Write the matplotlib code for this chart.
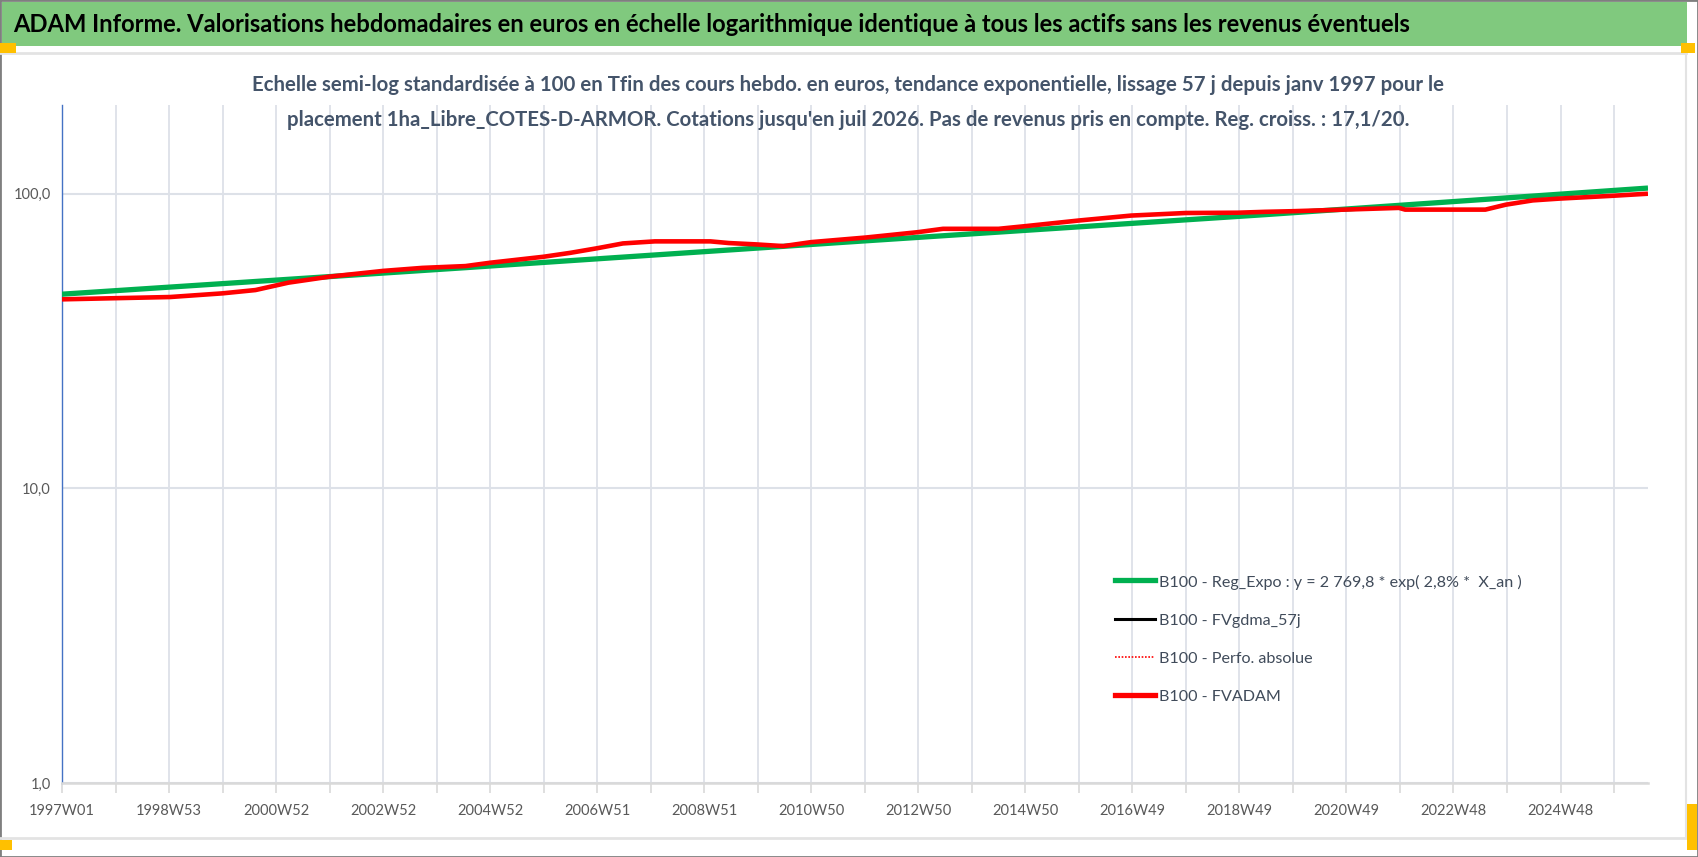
import matplotlib
matplotlib.use("Agg")
import matplotlib.pyplot as plt
from matplotlib import font_manager
from matplotlib.patches import Rectangle
from matplotlib.lines import Line2D
import matplotlib.ticker as mticker

# --- donnees (index = semaines depuis 1997W01) ---
WEEK_LABELS = ["1997W01", "1998W53", "2000W52", "2002W52", "2004W52", "2006W51",
               "2008W51", "2010W50", "2012W50", "2014W50", "2016W49", "2018W49",
               "2020W49", "2022W48", "2024W48"]
LAST_WEEK = 1541

# B100 - Reg_Expo (vert)
reg_weeks = [0, 392, 781, 1169, 1541]
reg_vals = [45.6, 56.1, 69.2, 84.9, 104.5]

# B100 - FVADAM (rouge)
adam_weeks = [0, 105, 156, 188, 220, 260, 312, 350, 392, 416, 468, 494, 520, 545,
              576, 630, 648, 674, 701, 728, 781, 831, 856, 910, 936, 988, 1039,
              1092, 1143, 1169, 1195, 1246, 1299, 1305, 1383, 1403, 1429, 1454,
              1507, 1541]
adam_vals = [43.8, 44.6, 45.9, 47.1, 49.9, 52.3, 54.7, 56.0, 56.8, 58.3, 61.1, 63.0,
             65.3, 67.8, 68.9, 68.9, 68.0, 67.3, 66.4, 68.5, 71.0, 74.0, 76.0, 76.0,
             77.6, 81.1, 84.3, 86.0, 86.2, 86.8, 87.2, 88.3, 89.5, 88.3, 88.3, 91.8,
             94.9, 96.2, 98.4, 100.0]

LEGEND_LABELS = ["B100 - Reg_Expo : y = 2 769,8 * exp( 2,8% *  X_an )",
                 "B100 - FVgdma_57j",
                 "B100 - Perfo. absolue",
                 "B100 - FVADAM"]

TITLE = ("ADAM Informe. Valorisations hebdomadaires en euros en échelle logarithmique "
         "identique à tous les actifs sans les revenus éventuels")
SUB1 = ("Echelle semi-log standardisée à 100 en Tfin des cours hebdo. en euros, tendance "
        "exponentielle, lissage 57 j depuis janv 1997 pour le")
SUB2 = ("placement 1ha_Libre_COTES-D-ARMOR. Cotations jusqu'en juil 2026. Pas de revenus "
        "pris en compte. Reg. croiss. : 17,1/20.")


def pick_font(*names):
    for n in names:
        try:
            font_manager.findfont(font_manager.FontProperties(family=n),
                                  fallback_to_default=False)
            return n
        except Exception:
            pass
    return "DejaVu Sans"


FONT = pick_font("Liberation Sans Narrow", "Lato", "Liberation Sans")
plt.rcParams["font.family"] = [FONT, "DejaVu Sans"]

W, H = 1698, 857
fig = plt.figure(figsize=(W / 100, H / 100), dpi=100)
fig.patch.set_facecolor("white")


def fx(px):
    return px / W


def fy(py):
    return 1 - py / H


def fit_width(txt, target):
    r = fig.canvas.get_renderer()
    w = txt.get_window_extent(r).width
    txt.set_fontsize(txt.get_fontsize() * target / w)


# cadre, bandeau vert, poignees jaunes
fig.add_artist(Rectangle((0, 0), 1, 1, transform=fig.transFigure, fill=False,
                         ec="#7f7f7f", lw=2))
fig.add_artist(Rectangle((fx(2), fy(46)), fx(1685), 44 / H, transform=fig.transFigure,
                         fc="#80c97e", ec="none"))
fig.add_artist(Line2D([fx(0), fx(1686)], [fy(53), fy(53)], color="#e3e3e3", lw=2))
fig.add_artist(Line2D([fx(0), fx(1686)], [fy(838), fy(838)], color="#e3e3e3", lw=2))
fig.add_artist(Line2D([fx(1686), fx(1686)], [fy(53), fy(838)], color="#e3e3e3", lw=1.5))
for x0, y0, w, h in [(0, 43, 16, 10), (1681, 43, 14, 10), (0, 840, 12, 10), (1687, 804, 10, 46)]:
    fig.add_artist(Rectangle((fx(x0), fy(y0 + h)), w / W, h / H, transform=fig.transFigure,
                             fc="#ffc000", ec="none", zorder=5))

t = fig.text(fx(13), fy(24), TITLE, fontsize=18, color="black", fontweight="bold",
             va="center", ha="left")
fit_width(t, 1400)

s1 = fig.text(fx(848), fy(85), SUB1, fontsize=13, color="#44546a", fontweight="bold",
              ha="center", va="center")
fit_width(s1, 1192)
s2 = fig.text(fx(848), fy(120), SUB2, fontsize=s1.get_fontsize(), color="#44546a",
              fontweight="bold", ha="center", va="center")

# --- zone de trace ---
ax = fig.add_axes([fx(62), fy(783), fx(1648) - fx(62), (783 - 105) / H])
ax.set_yscale("log")
ax.set_ylim(1, 200)
ax.set_xlim(0, LAST_WEEK)

ax.plot(reg_weeks, reg_vals, color="#00b050", lw=3.8, solid_capstyle="butt", zorder=3)
ax.plot(adam_weeks, adam_vals, color="#ff0000", lw=3.3, solid_capstyle="butt", zorder=4)

ax.yaxis.set_major_locator(mticker.FixedLocator([1, 10, 100]))
ax.yaxis.set_minor_locator(mticker.NullLocator())
ax.set_yticklabels(["1,0", "10,0", "100,0"])
ax.set_xticks(range(0, LAST_WEEK + 1, 104))
ax.set_xticklabels(WEEK_LABELS)
ax.set_xticks(range(52, LAST_WEEK + 1, 104), minor=True)

ax.grid(True, which="both", axis="x", color="#dde1e8", lw=1.3)
ax.grid(True, which="major", axis="y", color="#dde1e8", lw=1.5)
ax.set_axisbelow(True)
ax.tick_params(axis="x", which="both", direction="out", length=7, width=1.2,
               color="#d9d9d9", labelsize=10.5, labelcolor="#595959", pad=8)
ax.tick_params(axis="y", length=0, labelsize=10.5, labelcolor="#595959", pad=8)
for side in ["top", "right"]:
    ax.spines[side].set_visible(False)
ax.spines["bottom"].set_color("#d9d9d9")
ax.spines["bottom"].set_linewidth(1.8)
ax.spines["left"].set_color("#4472c4")
ax.spines["left"].set_linewidth(1.0)

handles = [Line2D([], [], color="#00b050", lw=3.8),
           Line2D([], [], color="black", lw=2.2),
           Line2D([], [], color="#ff0000", lw=1.2, ls=(0, (1, 1))),
           Line2D([], [], color="#ff0000", lw=3.8)]
leg = fig.legend(handles, LEGEND_LABELS, loc="upper left",
                 bbox_to_anchor=(fx(1115), fy(574)), frameon=False, fontsize=13,
                 handlelength=2.2, handletextpad=0.25, labelspacing=1.25,
                 borderpad=0, borderaxespad=0)
for txt in leg.get_texts():
    txt.set_color("#404b5a")
fit_width(leg.get_texts()[0], 360)
for txt in leg.get_texts()[1:]:
    txt.set_fontsize(leg.get_texts()[0].get_fontsize())

fig.savefig("out.png", dpi=100)
